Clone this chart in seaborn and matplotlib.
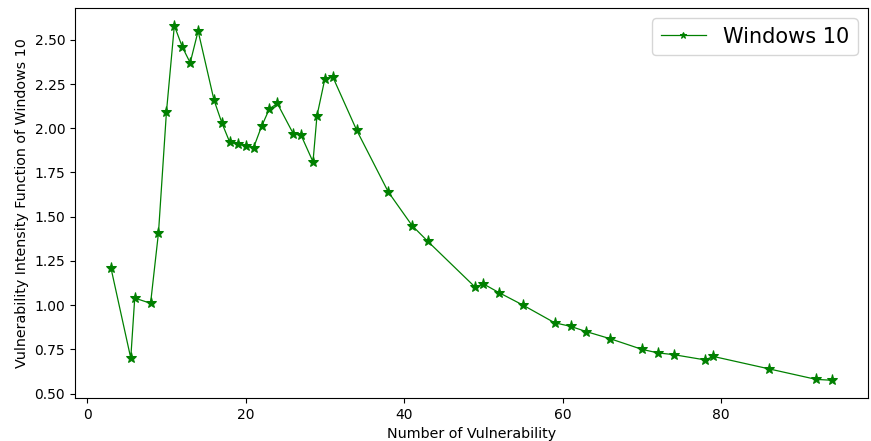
import matplotlib
matplotlib.use("Agg")
import matplotlib.pyplot as plt
import seaborn as sns
import pandas as pd

num_vuln = [3, 5.5, 6, 8, 9, 10, 11, 12, 13, 14, 16, 17, 18, 19, 20, 21, 22, 23, 24,
            26, 27, 28.5, 29, 30, 31, 34, 38, 41, 43, 49, 50, 52, 55, 59, 61, 63, 66,
            70, 72, 74, 78, 79, 86, 92, 94]
intensity = [1.21, 0.70, 1.04, 1.01, 1.41, 2.09, 2.58, 2.46, 2.37, 2.55, 2.16, 2.03,
             1.92, 1.91, 1.90, 1.89, 2.01, 2.11, 2.14, 1.97, 1.96, 1.81, 2.07, 2.28,
             2.29, 1.99, 1.64, 1.45, 1.36, 1.10, 1.12, 1.07, 1.00, 0.90, 0.88, 0.85,
             0.81, 0.75, 0.73, 0.72, 0.69, 0.71, 0.64, 0.58, 0.575]
series_name = "Windows 10"

df = pd.DataFrame({"x": num_vuln, "y": intensity, "series": series_name})

fig, ax = plt.subplots(figsize=(8.71, 4.41), dpi=100)
fig.subplots_adjust(left=0.086, right=0.9966, top=0.982, bottom=0.0975)

sns.lineplot(data=df, x="x", y="y", marker="*", color="green", linewidth=0.9,
             markersize=8, markeredgecolor="green", label=series_name, ax=ax,
             estimator=None, sort=False)

ax.set_xlabel("Number of Vulnerability", fontsize=10.3)
ax.set_ylabel("Vulnerability Intensity Function of Windows 10", fontsize=10.3)
ax.yaxis.set_major_formatter(matplotlib.ticker.FormatStrFormatter("%.2f"))
ax.legend(loc="upper right", fontsize=15, handlelength=2.2, markerscale=0.6)

fig.savefig("out.png", dpi=100)
